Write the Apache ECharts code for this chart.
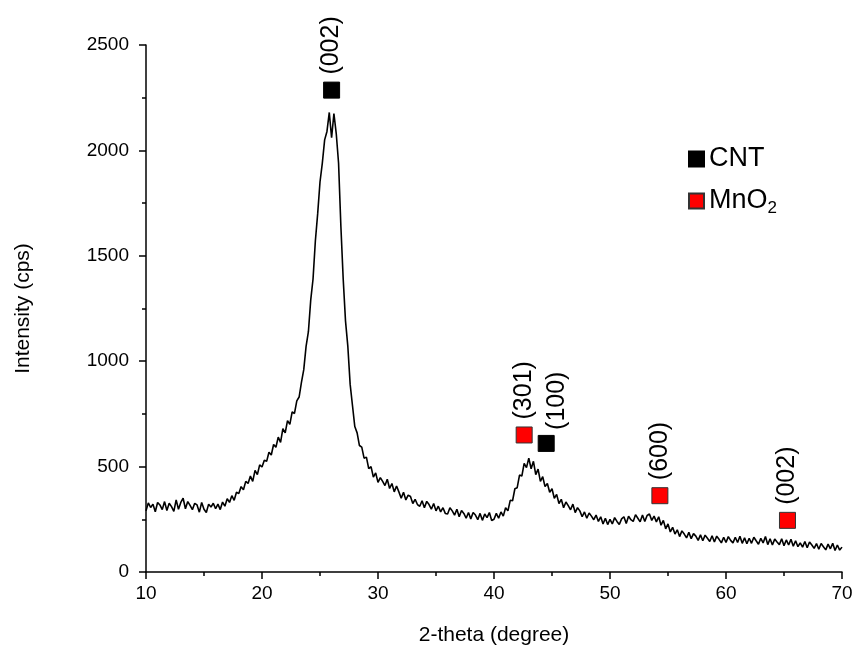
<!DOCTYPE html>
<html><head><meta charset="utf-8">
<script src="https://cdn.jsdelivr.net/npm/echarts@6/dist/echarts.min.js"></script>
<style>html,body{margin:0;padding:0;background:#fff}#c{width:856px;height:652px}</style>
</head><body><div id="c"></div>
<script>
// 2-theta sampling grid (degrees)
const thetaStart = 10;
const thetaStep = 0.2;
// Intensity (cps), one value per 0.2 degree, 10 .. 70
const intensity = [
  290, 328, 306, 322, 286, 330, 318, 296, 334, 292,   // 10.0-11.8
  326, 310, 288, 342, 298, 330, 350, 300, 334, 316,   // 12.0-13.8
  296, 326, 318, 284, 330, 298, 282, 322, 308, 326,   // 14.0-15.8
  300, 322, 296, 332, 312, 348, 330, 362, 340, 378,   // 16.0-17.8
  372, 405, 390, 430, 420, 455, 430, 482, 462, 508,   // 18.0-19.8
  498, 530, 525, 568, 555, 605, 592, 640, 615, 680,   // 20.0-21.8
  660, 718, 700, 760, 752, 812, 830, 900, 960, 1070,  // 22.0-23.8
  1140, 1290, 1390, 1570, 1700, 1850, 1940, 2050, 2090, 2180, // 24.0-25.8
  2060, 2175, 2080, 1940, 1640, 1390, 1190, 1070, 890, 790,   // 26.0-27.8
  690, 660, 600, 592, 540, 545, 490, 500, 450, 470,   // 28.0-29.8
  425, 448, 430, 410, 440, 396, 420, 380, 408, 380,   // 30.0-31.8
  350, 378, 342, 365, 358, 325, 345, 320, 312, 338,   // 32.0-33.8
  305, 335, 320, 298, 325, 290, 312, 285, 305, 278,   // 34.0-35.8
  275, 305, 290, 270, 298, 262, 292, 278, 255, 282,   // 36.0-37.8
  252, 282, 270, 248, 278, 245, 275, 258, 282, 244,   // 38.0-39.8
  250, 278, 255, 285, 265, 305, 290, 340, 338, 395,   // 40.0-41.8
  400, 460, 455, 515, 495, 540, 490, 525, 462, 488,   // 42.0-43.8
  430, 452, 405, 420, 378, 395, 350, 368, 325, 345,   // 44.0-45.8
  305, 332, 315, 295, 322, 282, 305, 290, 262, 285,   // 46.0-47.8
  255, 280, 265, 248, 270, 240, 262, 228, 255, 225,   // 48.0-49.8
  250, 228, 258, 240, 225, 252, 262, 230, 265, 248,   // 50.0-51.8
  240, 272, 255, 238, 270, 240, 268, 275, 245, 265,   // 52.0-53.8
  238, 262, 222, 245, 205, 228, 190, 212, 180, 200,   // 54.0-55.8
  168, 195, 180, 162, 188, 158, 182, 170, 150, 176,   // 56.0-57.8
  148, 175, 160, 145, 172, 142, 170, 155, 138, 165,   // 58.0-59.8
  140, 168, 150, 138, 165, 140, 170, 136, 162, 134,   // 60.0-61.8
  160, 136, 165, 148, 132, 160, 138, 168, 130, 158,   // 62.0-63.8
  128, 156, 142, 130, 158, 125, 152, 128, 155, 122,   // 64.0-65.8
  148, 120, 138, 118, 145, 115, 142, 128, 112, 135,   // 66.0-67.8
  108, 135, 120, 105, 132, 110, 136, 102, 128, 104,   // 68.0-69.8
  118                                                 // 70.0
];
// Peak markers
const peakTheta = [26.0, 42.6, 44.5, 54.3, 65.3];
const peakMark = [2286, 650, 610, 362, 245];
const peakLabel = ['(002)', '(301)', '(100)', '(600)', '(002)'];
const peakPhase = ['CNT', 'MnO2', 'CNT', 'MnO2', 'MnO2'];
const phaseNames = ['CNT', 'MnO2'];

const FONT = "'Liberation Sans', Arial, sans-serif";
const curve = intensity.map((v, i) => [+(thetaStart + i * thetaStep).toFixed(1), v]);

function peakData(phase) {
  const out = [];
  peakTheta.forEach((t, i) => {
    if (peakPhase[i] !== phase) return;
    const item = { value: [t, peakMark[i]], name: peakLabel[i] };
    if (peakLabel[i] === '(100)') item.label = { offset: [-2, 11] };
    out.push(item);
  });
  return out;
}

const labelCfg = {
  show: true, position: 'top', rotate: 90, distance: 7,
  align: 'left', verticalAlign: 'middle', opacity: 1,
  formatter: p => p.name, fontSize: 25, color: '#000', fontFamily: FONT
};

const chart = echarts.init(document.getElementById('c'), null, { renderer: 'canvas' });
chart.setOption({
  animation: false,
  backgroundColor: '#fff',
  grid: { left: 146, right: 14, top: 45, bottom: 80 },
  legend: {
    data: phaseNames.map(n => ({ name: n, icon: 'rect' })),
    orient: 'vertical', left: 683, top: 138,
    itemWidth: 15, itemHeight: 15, itemGap: 10,
    formatter: n => n === 'MnO2' ? 'MnO{sub|2}' : n,
    textStyle: {
      fontSize: 27, fontFamily: FONT, color: '#000', lineHeight: 32,
      rich: { sub: { fontSize: 17, fontFamily: FONT, color: '#000', lineHeight: 32, padding: [14, 0, 0, 0] } }
    }
  },
  xAxis: {
    type: 'value', min: 10, max: 70, interval: 10,
    name: '2-theta (degree)', nameLocation: 'middle', nameGap: 53,
    nameTextStyle: { fontSize: 21, fontFamily: FONT, color: '#000' },
    axisLine: { onZero: false, lineStyle: { color: '#000', width: 1.5 } },
    axisTick: { show: true, length: 7, lineStyle: { color: '#000', width: 1.5 } },
    minorTick: { show: true, splitNumber: 2, length: 4, lineStyle: { color: '#000', width: 1.5 } },
    axisLabel: { margin: 12, fontSize: 19, fontFamily: FONT, color: '#000' },
    splitLine: { show: false }
  },
  yAxis: {
    type: 'value', min: 0, max: 2500, interval: 500,
    name: 'Intensity (cps)', nameLocation: 'middle', nameGap: 112,
    nameTextStyle: { fontSize: 21, fontFamily: FONT, color: '#000' },
    axisLine: { show: true, onZero: false, lineStyle: { color: '#000', width: 1.5 } },
    axisTick: { show: true, length: 7, lineStyle: { color: '#000', width: 1.5 } },
    minorTick: { show: true, splitNumber: 2, length: 4, lineStyle: { color: '#000', width: 1.5 } },
    axisLabel: { margin: 17, fontSize: 19, fontFamily: FONT, color: '#000', formatter: v => String(v) },
    splitLine: { show: false }
  },
  series: [
    {
      name: 'XRD', type: 'line', data: curve, showSymbol: false, silent: true,
      lineStyle: { color: '#000', width: 1.6 }, z: 2
    },
    {
      name: 'CNT', type: 'scatter', symbol: 'rect', symbolSize: 16,
      itemStyle: { color: '#000', borderColor: '#000', borderWidth: 1, opacity: 1 },
      label: labelCfg, data: peakData('CNT'), z: 3
    },
    {
      name: 'MnO2', type: 'scatter', symbol: 'rect', symbolSize: 16,
      itemStyle: { color: '#ff0000', borderColor: '#333', borderWidth: 1, opacity: 1 },
      label: labelCfg, data: peakData('MnO2'), z: 3
    }
  ]
});
</script></body></html>
